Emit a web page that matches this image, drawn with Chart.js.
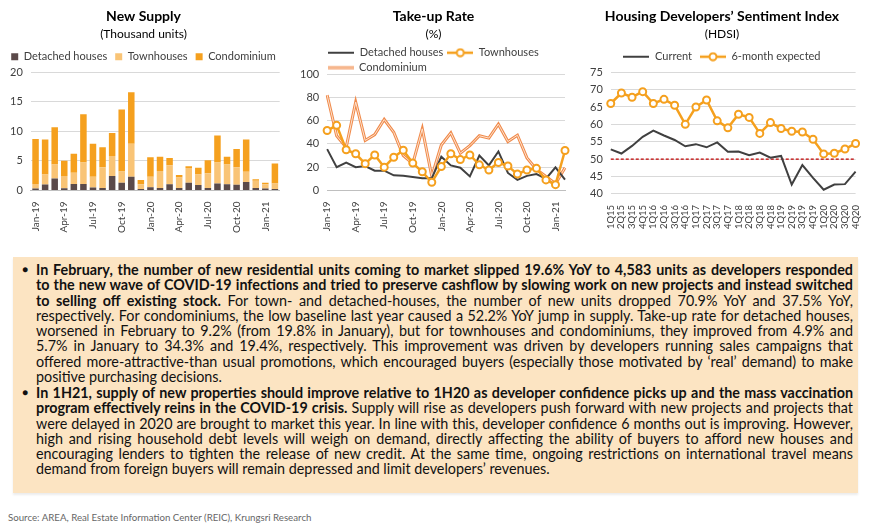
<!DOCTYPE html>
<html>
<head>
<meta charset="utf-8">
<script src="https://cdn.jsdelivr.net/npm/chart.js@4.4.1/dist/chart.umd.min.js"></script>
<style>
body{margin:0;width:870px;height:531px;background:#fff;font-family:Lato,sans-serif;overflow:hidden;position:relative}
canvas.chart{position:absolute;top:0}
#box{position:absolute;left:13px;top:257px;width:845px;height:236px;background:#fce4c2;box-shadow:0 2px 2px rgba(0,0,0,0.08)}
.para{position:absolute;left:23px;width:817px;font-size:13px;line-height:15.3px;color:#111}
.para .l{display:block;white-space:nowrap;text-align:justify;text-align-last:justify}
.para .l.last{text-align-last:left}
.dot{position:absolute;left:-14px;top:0;font-size:10px}
#src{position:absolute;left:8px;top:511px;font-size:9.7px;color:#666}
</style>
</head>
<body>
<canvas id="supply" class="chart" width="290" height="236" style="left:0"></canvas>
<canvas id="takeup" class="chart" width="290" height="236" style="left:290px"></canvas>
<canvas id="hdsi" class="chart" width="290" height="232" style="left:580px"></canvas>

<div id="box">
<div class="para" style="top:5px"><span class="dot">&#9679;</span>
<span class="l"><b>In February, the number of new residential units coming to market slipped 19.6% YoY to 4,583 units as developers responded</b></span>
<span class="l"><b>to the new wave of COVID-19 infections and tried to preserve cashflow by slowing work on new projects and instead switched</b></span>
<span class="l"><b>to selling off existing stock.</b> For town- and detached-houses, the number of new units dropped 70.9% YoY and 37.5% YoY,</span>
<span class="l">respectively. For condominiums, the low baseline last year caused a 52.2% YoY jump in supply. Take-up rate for detached houses,</span>
<span class="l">worsened in February to 9.2% (from 19.8% in January), but for townhouses and condominiums, they improved from 4.9% and</span>
<span class="l">5.7% in January to 34.3% and 19.4%, respectively. This improvement was driven by developers running sales campaigns that</span>
<span class="l">offered more-attractive-than usual promotions, which encouraged buyers (especially those motivated by ‘real’ demand) to make</span>
<span class="l last">positive purchasing decisions.</span>
</div>
<div class="para" style="top:128px"><span class="dot">&#9679;</span>
<span class="l"><b>In 1H21, supply of new properties should improve relative to 1H20 as developer confidence picks up and the mass vaccination</b></span>
<span class="l"><b>program effectively reins in the COVID-19 crisis.</b> Supply will rise as developers push forward with new projects and projects that</span>
<span class="l">were delayed in 2020 are brought to market this year. In line with this, developer confidence 6 months out is improving. However,</span>
<span class="l">high and rising household debt levels will weigh on demand, directly affecting the ability of buyers to afford new houses and</span>
<span class="l">encouraging lenders to tighten the release of new credit. At the same time, ongoing restrictions on international travel means</span>
<span class="l last">demand from foreign buyers will remain depressed and limit developers’ revenues.</span>
</div>
</div>
<div id="src">Source: AREA, Real Estate Information Center (REIC), Krungsri Research</div>

<script>
const months = ["Jan-19","Feb-19","Mar-19","Apr-19","May-19","Jun-19","Jul-19","Aug-19","Sep-19","Oct-19","Nov-19","Dec-19",
	"Jan-20","Feb-20","Mar-20","Apr-20","May-20","Jun-20","Jul-20","Aug-20","Sep-20","Oct-20","Nov-20","Dec-20","Jan-21","Feb-21"];

// new supply, thousand units
const supplyDetached = [0.3,1.0,2.0,0.35,1.1,1.1,0.5,0.4,2.45,1.3,2.3,0.25,0.55,0.4,1.05,0.4,1.3,0.9,0.4,1.15,1.05,0.95,1.4,0.4,0.3,0.25];
const supplyTownhouses = [0.8,1.7,2.4,2.1,1.9,3.6,1.8,3.5,3.35,1.9,5.6,0.8,1.75,2.9,3.2,1.8,2.5,1.8,2.5,3.55,3.35,2.95,1.75,1.25,0.75,0.9];
const supplyCondo = [7.6,5.9,6.3,2.55,3.2,8.2,5.6,3.4,3.9,10.5,8.7,0.7,3.3,2.4,1.25,0.4,0.3,1.15,2.2,4.6,1.3,3.1,5.45,0.25,0.25,3.4];

// take-up rate, %
const takeupDetached = [35.5,20,24,20,21,17,17,13,12.5,11.5,10.5,10.5,29,21.5,19.5,12,30,21.5,33.5,15,9,12.5,14,10,19.8,9.2];
const takeupTownhouses = [51.5,56,35,31.5,23,30.5,20,28.5,34.5,23.5,16,7,20.5,31.5,26.5,30.5,22,17.5,24,21,14,17.5,19,9,4.9,34.3];
const takeupCondo = [82,47,37,76,43,48,61,50,30,23,53,12,39,49.5,32,38.5,47,45,57,42,47.5,28,18,12,5.7,19.4];

// HDSI
const quarters = ["1Q15","2Q15","3Q15","4Q15","1Q16","2Q16","3Q16","4Q16","1Q17","2Q17","3Q17","4Q17",
	"1Q18","2Q18","3Q18","4Q18","1Q19","2Q19","3Q19","4Q19","1Q20","2Q20","3Q20","4Q20"];
const hdsiCurrent = [52.8,51.6,53.8,56.4,58.2,56.8,55.5,53.7,54.3,53.4,54.8,52.1,52.2,51.1,51.9,50.4,50.9,42.7,48.3,44.6,41.2,42.7,42.8,46.4];
const hdsiExpected = [66,69,67.8,69.4,66,67.2,65.5,60,65,67,61,59,62.9,62,57.4,60.5,58.8,58,57.8,55.7,51.5,51.7,52.9,54.5];
const hdsiThreshold = 50;

const DARK = "#404040", ORANGE = "#f5a01e", GRID = "#d9d9d9";
Chart.defaults.font.family = "Lato";
Chart.defaults.color = "#404040";
Chart.defaults.animation = false;

// grow the commentary text until its widest line fills the box
function fitText(){
	const lines = document.querySelectorAll(".para .l");
	let widest = 0;
	lines.forEach(l => {
		l.style.display = "inline-block";
		widest = Math.max(widest, l.offsetWidth);
		l.style.display = "";
	});
	const size = 13 * 812 / widest;
	document.querySelectorAll(".para").forEach(p => p.style.fontSize = size + "px");
}
fitText();

// small legend icons: a line, optionally with a hollow circle, optionally double-lined
function lineIcon(colour, width, circle, inner){
	const c = document.createElement("canvas");
	c.width = 26; c.height = 10;
	const g = c.getContext("2d");
	g.strokeStyle = colour; g.lineWidth = width;
	g.beginPath(); g.moveTo(0, 5); g.lineTo(26, 5); g.stroke();
	if (inner){
		g.strokeStyle = inner; g.lineWidth = 1;
		g.beginPath(); g.moveTo(0, 5); g.lineTo(26, 5); g.stroke();
	}
	if (circle){
		g.fillStyle = "#fff"; g.lineWidth = 2; g.strokeStyle = colour;
		g.beginPath(); g.arc(13, 5, 3.5, 0, Math.PI * 2); g.fill(); g.stroke();
	}
	return c;
}

function titles(main, sub){
	return {
		title: {display: true, text: main, color: "#000", font: {size: 14, weight: "bold"}, padding: {top: 8, bottom: 2}},
		subtitle: {display: true, text: sub, color: "#000", font: {size: 12}, padding: {bottom: 2}},
	};
}

function iconLegend(icons, padding, maxHeight){
	return {
		maxHeight: maxHeight,
		labels: {
			usePointStyle: true, pointStyleWidth: 26, font: {size: 11}, padding: padding, color: DARK,
			filter: item => icons[item.datasetIndex] !== undefined,
			sort: (a, b) => a.datasetIndex - b.datasetIndex,
			generateLabels: chart => Chart.defaults.plugins.legend.labels.generateLabels(chart).map(item => {
				item.pointStyle = icons[item.datasetIndex];
				return item;
			}),
		}
	};
}

const monthTicks = {autoSkip: false, minRotation: 90, maxRotation: 90, font: {size: 10}, callback: (v, i) => i % 3 === 0 ? months[i] : ""};

new Chart(document.querySelector("#supply"), {
	type: "bar",
	data: {
		labels: months,
		datasets: [
			{label: "Detached houses", data: supplyDetached, backgroundColor: "#5b4a4a"},
			{label: "Townhouses", data: supplyTownhouses, backgroundColor: "#f9c476"},
			{label: "Condominium", data: supplyCondo, backgroundColor: ORANGE},
		]
	},
	options: {
		responsive: false,
		layout: {padding: {left: 2, right: 5}},
		datasets: {bar: {categoryPercentage: 1, barPercentage: 0.68}},
		plugins: Object.assign(titles("New Supply", "(Thousand units)"), {
			legend: {labels: {boxWidth: 7, boxHeight: 7, font: {size: 11}, padding: 8, color: DARK}},
			tooltip: {enabled: false},
		}),
		scales: {
			x: {stacked: true, grid: {display: false}, border: {color: "#bfbfbf"}, ticks: monthTicks},
			y: {stacked: true, min: 0, max: 20, border: {display: false}, grid: {color: GRID, drawTicks: false},
				ticks: {stepSize: 5, padding: 8, font: {size: 11}}},
		}
	}
});

new Chart(document.querySelector("#takeup"), {
	type: "line",
	data: {
		labels: months,
		datasets: [
			{label: "Detached houses", data: takeupDetached, borderColor: DARK, borderWidth: 2, pointRadius: 0, order: 1},
			{label: "Townhouses", data: takeupTownhouses, borderColor: ORANGE, borderWidth: 2.5, pointRadius: 3.5,
				pointBorderWidth: 2, pointBackgroundColor: "#fff", pointBorderColor: ORANGE, order: 0},
			{label: "Condominium                                        ", data: takeupCondo, borderColor: "#f08a4b", borderWidth: 3, pointRadius: 0, order: 3},
			{label: "condo-inner", data: takeupCondo, borderColor: "#fde3cf", borderWidth: 1, pointRadius: 0, order: 2},
		]
	},
	options: {
		responsive: false,
		layout: {padding: {left: 2, right: 5}},
		plugins: Object.assign(titles("Take-up Rate", "(%)"), {
			legend: iconLegend([lineIcon(DARK, 2), lineIcon(ORANGE, 2.5, true), lineIcon("#f08a4b", 3, false, "#fde3cf")], 4, 31),
			tooltip: {enabled: false},
		}),
		scales: {
			x: {grid: {display: false}, border: {color: "#bfbfbf"}, ticks: monthTicks},
			y: {min: 0, max: 100, border: {display: false}, grid: {color: GRID, drawTicks: false},
				ticks: {stepSize: 20, padding: 8, font: {size: 11}}},
		}
	}
});

const thresholdLine = {
	id: "thresholdLine",
	beforeDatasetsDraw(chart){
		const {ctx, chartArea, scales} = chart;
		const y = scales.y.getPixelForValue(hdsiThreshold);
		ctx.save();
		ctx.strokeStyle = "#c00000"; ctx.lineWidth = 1.2; ctx.setLineDash([3, 2]);
		ctx.beginPath(); ctx.moveTo(chartArea.left, y); ctx.lineTo(chartArea.right, y); ctx.stroke();
		ctx.restore();
	}
};

new Chart(document.querySelector("#hdsi"), {
	type: "line",
	data: {
		labels: quarters,
		datasets: [
			{label: "Current", data: hdsiCurrent, borderColor: DARK, borderWidth: 2, pointRadius: 0, order: 1},
			{label: "6-month expected", data: hdsiExpected, borderColor: ORANGE, borderWidth: 2.5, pointRadius: 3.5,
				pointBorderWidth: 2, pointBackgroundColor: "#fff", pointBorderColor: ORANGE, order: 0},
		]
	},
	options: {
		responsive: false,
		layout: {padding: {left: 2, right: 8}},
		plugins: Object.assign(titles("Housing Developers’ Sentiment Index", "(HDSI)"), {
			legend: iconLegend([lineIcon(DARK, 2), lineIcon(ORANGE, 2.5, true)], 8),
			tooltip: {enabled: false},
		}),
		scales: {
			x: {grid: {display: false}, border: {display: false}, ticks: {autoSkip: false, minRotation: 90, maxRotation: 90, font: {size: 9.5}}},
			y: {min: 40, max: 75, border: {display: false}, grid: {color: GRID, drawTicks: false},
				ticks: {stepSize: 5, padding: 8, font: {size: 11}}},
		}
	},
	plugins: [thresholdLine]
});
</script>
</body>
</html>
